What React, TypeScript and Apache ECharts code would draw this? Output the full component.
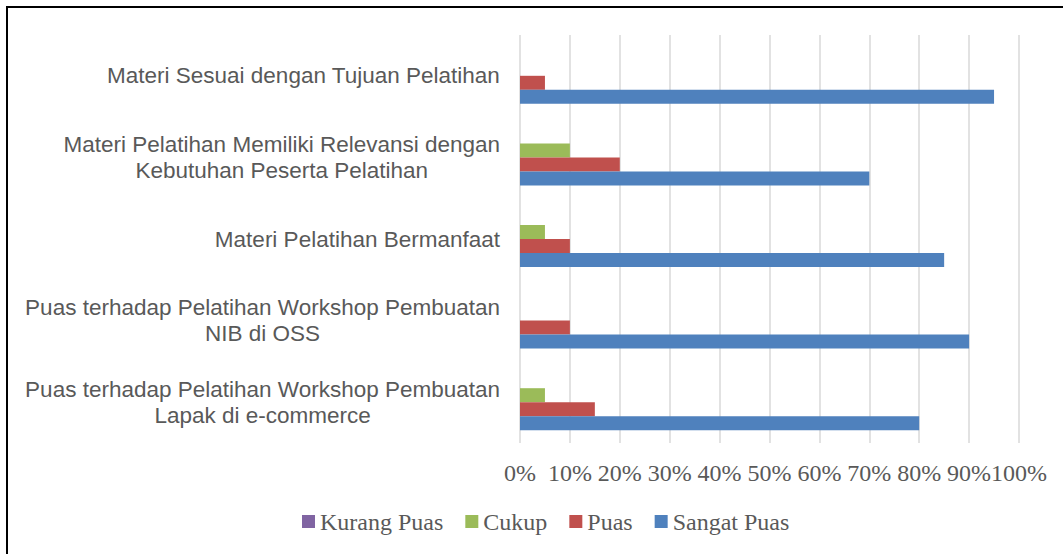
import React, { useEffect, useRef } from "react";
import * as echarts from "echarts";

const categories = [
  "Materi Sesuai dengan Tujuan Pelatihan",
  "Materi Pelatihan Memiliki Relevansi dengan\nKebutuhan Peserta Pelatihan",
  "Materi Pelatihan Bermanfaat",
  "Puas terhadap Pelatihan Workshop Pembuatan\nNIB di OSS",
  "Puas terhadap Pelatihan Workshop Pembuatan\nLapak di e-commerce",
];
const seriesNames = ["Kurang Puas", "Cukup", "Puas", "Sangat Puas"];
const kurangPuas = [0, 0, 0, 0, 0];
const cukup = [0, 10, 5, 0, 5];
const puas = [5, 20, 10, 10, 15];
const sangatPuas = [95, 70, 85, 90, 80];
const colors = ["#8064A2", "#9BBB59", "#C0504D", "#4F81BD"];

export default function App() {
  const ref = useRef<HTMLDivElement>(null);
  useEffect(() => {
    document.body.style.margin = "0";
    document.body.style.background = "#ffffff";
    const chart = echarts.init(ref.current!, null, { renderer: "svg" });
    const values = [kurangPuas, cukup, puas, sangatPuas];
    chart.setOption({
      animation: false,
      backgroundColor: "#ffffff",
      grid: { left: 520, right: 44, top: 35, bottom: 111, containLabel: false },
      legend: {
        data: seriesNames,
        left: 302,
        top: 509.5,
        padding: 0,
        itemWidth: 13,
        itemHeight: 13,
        itemGap: 22,
        icon: "rect",
        textStyle: { fontFamily: "Liberation Serif", fontSize: 24, color: "#595959" },
      },
      xAxis: {
        type: "value",
        min: 0,
        max: 100,
        interval: 10,
        axisLine: { show: false },
        axisTick: { show: false },
        splitLine: { show: true, lineStyle: { color: "#d9d9d9", width: 1.5 } },
        axisLabel: {
          formatter: "{value}%",
          margin: 18,
          fontFamily: "Liberation Serif",
          fontSize: 24,
          color: "#595959",
        },
      },
      yAxis: {
        type: "category",
        inverse: true,
        data: categories,
        axisLine: { show: false },
        axisTick: { show: false },
        axisLabel: {
          margin: 20,
          formatter: (v: string) => v.split("\n").map((s) => `{c|${s}}`).join("\n"),
          rich: {
            c: {
              align: "center",
              fontFamily: "Liberation Sans",
              fontSize: 22.5,
              lineHeight: 26,
              color: "#595959",
            },
          },
        },
      },
      series: seriesNames.map((name, i) => ({
        name,
        type: "bar",
        data: values[i],
        barWidth: 14,
        barGap: "0%",
        itemStyle: { color: colors[i] },
      })),
      graphic: [
        {
          type: "rect",
          shape: { x: 7, y: 7, width: 1200, height: 700 },
          style: { fill: "none", stroke: "#000000", lineWidth: 2 },
          silent: true,
          z: 100,
        },
      ],
    });
    return () => chart.dispose();
  }, []);
  return <div ref={ref} style={{ width: 1063, height: 554 }} />;
}
